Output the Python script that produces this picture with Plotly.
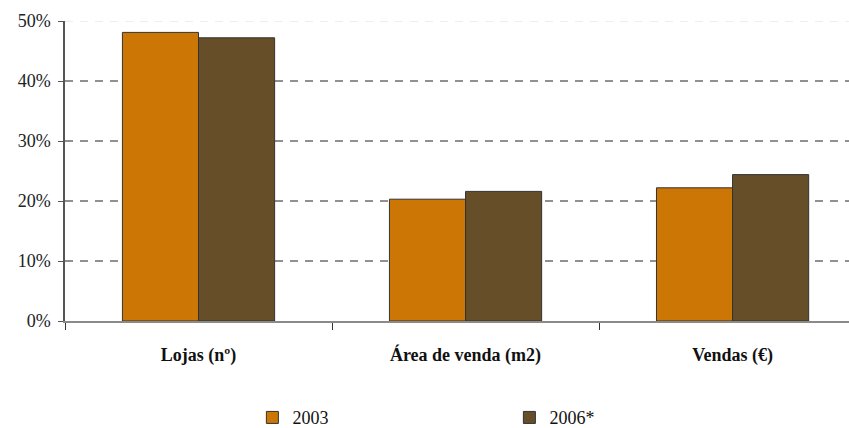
import plotly.graph_objects as go

# Share of modern retail formats, 2003 vs 2006*
categories = ["Lojas (nº)", "Área de venda (m2)", "Vendas (€)"]
series_names = ["2003", "2006*"]
values_2003 = [48.1, 20.3, 22.2]
values_2006 = [47.2, 21.6, 24.4]
y_ticks = [0, 10, 20, 30, 40, 50]
y_tick_labels = ["0%", "10%", "20%", "30%", "40%", "50%"]

colors = ["#CC7606", "#664F28"]
serif = "Liberation Serif"

fig = go.Figure()
for name, vals, col in zip(series_names, [values_2003, values_2006], colors):
    fig.add_trace(go.Bar(
        x=categories, y=vals, name=name,
        marker=dict(color=col, line=dict(color="#333333", width=1)),
    ))

# dashed horizontal gridlines; the top one is light
shapes = []
for v in y_ticks[1:]:
    shapes.append(dict(
        type="line", xref="paper", yref="y", x0=0, x1=1, y0=v, y1=v,
        line=dict(color="#DDDDDD" if v == y_ticks[-1] else "#222222",
                  width=1, dash="8px,7px"),
        layer="below",
    ))

fig.update_layout(
    width=849, height=428,
    margin=dict(l=65, r=0, t=21, b=107),
    paper_bgcolor="white", plot_bgcolor="white",
    barmode="group", bargap=0.43, bargroupgap=0,
    shapes=shapes,
    font=dict(family=serif, color="#111111"),
    showlegend=True,
    legend=dict(
        orientation="h", x=0.239, xanchor="left",
        yref="container", y=0.024, yanchor="middle",
        font=dict(family=serif, size=18, color="#111111"),
        entrywidth=212, entrywidthmode="pixels",
        bgcolor="rgba(0,0,0,0)",
    ),
    xaxis=dict(
        type="category", range=[-0.5, 2.436],
        showgrid=False, zeroline=False,
        showline=True, linecolor="#8A8A8A", linewidth=1.5,
        ticks="outside", tickson="boundaries", ticklen=7,
        tickcolor="#333333", tickwidth=1,
        tickfont=dict(family=serif, size=18, color="#111111", weight="bold"),
        ticklabelstandoff=17,
    ),
    yaxis=dict(
        range=[0, 50], tickvals=y_ticks, ticktext=y_tick_labels,
        showgrid=False, zeroline=False,
        showline=True, linecolor="#555555", linewidth=1.5,
        ticks="outside", ticklen=5, tickcolor="#555555",
        tickfont=dict(family=serif, size=18, color="#222222"),
        ticklabelstandoff=4,
    ),
)

fig.write_html("out.html")
